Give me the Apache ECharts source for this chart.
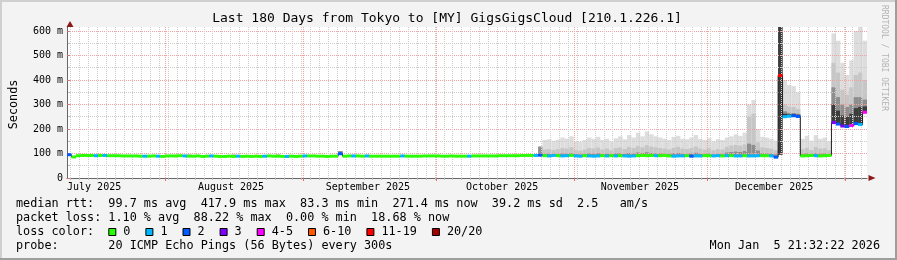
<!DOCTYPE html>
<html><head><meta charset="utf-8">
<script src="https://cdn.jsdelivr.net/npm/echarts@6/dist/echarts.min.js"></script>
<style>html,body{margin:0;padding:0;background:#f3f3f3;}#c{width:897px;height:260px;}</style>
</head><body><div id="c"></div>
<script>
const _ = null;
const titleText = 'Last 180 Days from Tokyo to [MY] GigsGigsCloud [210.1.226.1]';
const yAxisTitle = 'Seconds';
const sideText = 'RRDTOOL / TOBI OETIKER';
// x axis: days since start of the 180 day window
const totalDays = 180;
const monthStartDays = [22.1, 53.1, 83.1, 114.1, 144.1, 175.1];
const monthLabelDays = [6.1, 36.9, 67.7, 97.9, 128.9, 159.1];
const monthLabels = ['July 2025', 'August 2025', 'September 2025', 'October 2025', 'November 2025', 'December 2025'];
const yTickMax = 600;
const yTickStep = 100;
const yDataTop = 616;

// median rtt (ms) per day
const median = [
 95, 86, 91, 92, 92, 92, 91, 92, 92, 91,
 91, 91, 90, 90, 90, 90, 89, 89, 89, 90,
 89, 88, 90, 90, 90, 91, 90, 89, 89, 90,
 88, 89, 90, 89, 88, 88, 89, 88, 89, 88,
 89, 88, 89, 88, 89, 90, 89, 89, 88, 88,
 89, 88, 89, 90, 90, 90, 89, 89, 88, 89,
 89, 99, 89, 90, 90, 90, 89, 90, 89, 89,
 89, 89, 89, 89, 89, 90, 89, 89, 89, 89,
 90, 90, 90, 90, 89, 89, 90, 89, 89, 89,
 89, 90, 90, 90, 90, 90, 90, 91, 91, 91,
 91, 91, 92, 92, 92, 92, 93, 91, 90, 92,
 91, 90, 91, 92, 90, 89, 91, 90, 89, 90,
 91, 90, 91, 90, 91, 90, 89, 90, 91, 92,
 91, 92, 91, 91, 92, 90, 89, 90, 90, 91,
 89, 90, 90, 91, 91, 90, 91, 90, 91, 91,
 90, 90, 91, 90, 90, 91, 91, 91, 90, 85,
 418, 250, 252, 254, 251, 90, 91, 92, 91, 90,
 91, 92, 226, 220, 212, 210, 214, 222, 218, 268
];
// lost pings (of 20) per day
const loss = [
 2,0,0,0,0,0,1,0,1,0,
 0,0,0,0,0,0,0,1,0,0,
 1,0,0,0,0,0,1,0,0,0,
 0,0,1,0,0,0,0,0,1,0,
 0,0,0,0,1,0,0,0,0,1,
 0,0,0,1,0,0,0,0,0,0,
 0,2,0,0,1,0,0,1,0,0,
 0,0,0,0,0,1,0,0,0,0,
 0,0,0,0,0,0,0,0,0,0,
 1,0,0,0,0,0,0,0,0,0,
 0,0,0,0,0,1,2,0,1,1,
 0,1,1,0,1,1,0,1,1,1,
 0,1,0,1,0,1,1,1,0,0,
 0,0,1,0,0,0,1,1,1,0,
 2,1,1,0,0,1,1,0,1,0,
 1,1,0,1,1,1,0,0,1,2,
 15,1,1,2,2,0,0,0,1,0,
 0,0,3,2,3,2,4,2,1,5
];
// smoke: outer (max) ping, middle ping band, inner ping band (ms)
const smokeHi = [
 _,_,_,_,_,_,_,_,_,_,
 _,_,_,_,_,_,_,_,_,_,
 _,_,_,_,94,_,_,95,_,_,
 _,94,_,_,_,_,_,95,_,_,
 _,_,_,94,_,_,_,95,_,_,
 94,_,_,_,_,_,_,_,_,_,
 _,110,_,_,_,_,_,_,_,_,
 _,_,_,_,_,_,_,_,_,_,
 _,_,_,_,_,_,_,_,_,_,
 _,_,_,_,_,_,_,_,_,_,
 _,_,_,_,_,_,128,155,158,152,
 156,165,160,170,150,148,155,165,160,168,
 155,160,150,162,170,158,175,165,185,170,
 190,178,170,165,160,155,168,172,160,158,
 165,175,160,155,162,150,158,155,165,170,
 178,172,185,300,318,200,168,165,160,152,
 616,400,380,375,350,160,172,152,175,160,
 165,150,590,560,470,420,480,600,616,560
];
const smokeMid = [
 _,_,_,_,_,_,_,_,_,_,
 _,_,_,_,_,_,_,_,_,_,
 _,_,_,_,94,_,_,95,_,_,
 _,94,_,_,_,_,_,95,_,_,
 _,_,_,94,_,_,_,95,_,_,
 94,_,_,_,_,_,_,_,_,_,
 _,110,_,_,_,_,_,_,_,_,
 _,_,_,_,_,_,_,_,_,_,
 _,_,_,_,_,_,_,_,_,_,
 _,_,_,_,_,_,_,_,_,_,
 _,_,_,_,_,_,128,116,118,114,
 118,122,120,125,113,112,116,122,120,124,
 116,120,113,122,125,118,127,122,130,125,
 134,128,125,122,120,116,123,127,120,118,
 122,128,120,116,121,113,118,116,127,132,
 135,132,137,250,262,145,125,122,120,113,
 616,300,292,290,282,118,123,114,127,120,
 121,113,470,430,360,340,370,420,430,400
];
const smokeDark = [
 _,_,_,_,_,_,_,_,_,_,
 _,_,_,_,_,_,_,_,_,_,
 _,_,_,_,94,_,_,95,_,_,
 _,94,_,_,_,_,_,95,_,_,
 _,_,_,94,_,_,_,95,_,_,
 94,_,_,_,_,_,_,_,_,_,
 _,110,_,_,_,_,_,_,_,_,
 _,_,_,_,_,_,_,_,_,_,
 _,_,_,_,_,_,_,_,_,_,
 _,_,_,_,_,_,_,_,_,_,
 _,_,_,_,_,_,128,98,99,98,
 98,100,99,101,97,96,98,100,99,101,
 98,99,96,100,101,98,102,100,104,101,
 105,102,100,100,99,98,101,102,99,98,
 100,103,99,98,100,96,98,97,104,106,
 108,106,110,140,135,112,101,100,99,96,
 600,272,266,265,262,98,100,97,101,99,
 100,97,370,330,300,290,300,330,330,320
];
// densest core of the smoke on the most scattered days: [day, ms]
const smokeCorePairs = [[160, 616], [161, 262], [162, 260], [163, 261], [164, 258],
  [172, 300], [173, 275], [174, 255], [175, 250], [176, 262], [177, 285], [178, 290], [179, 292]];
// days where the lowest ping sits well below the median: [day, ms]
const smokeLowPairs = [[160, 95]];

const lossMaxOfClass = [0, 1, 2, 3, 5, 10, 19, 20];
const lossLabels = ['0', '1', '2', '3', '4-5', '6-10', '11-19', '20/20'];
const lossColors = ['#26ff00', '#00b8ff', '#0059ff', '#7e00ff', '#ff00ff', '#ff5500', '#ff0000', '#a00000'];

const legendMedian = 'median rtt:  99.7 ms avg  417.9 ms max  83.3 ms min  271.4 ms now  39.2 ms sd  2.5   am/s';
const legendLoss = 'packet loss: 1.10 % avg  88.22 % max  0.00 % min  18.68 % now';
const legendLossHead = 'loss color:';
const legendProbe = 'probe:       20 ICMP Echo Pings (56 Bytes) every 300s';
const legendDate = 'Mon Jan  5 21:32:22 2026';

// ---------- layout ----------
const FONT = '"DejaVu Sans Mono", monospace';
const PL = 67, PR = 867, PT = 27, PB = 178;
const gridTop1 = PB - (PB - PT) * yTickMax / yDataTop;
const minorGridDays = [];
for (let d = 0.77; d < totalDays; d += 2) minorGridDays.push(Math.round(d * 100) / 100);

function lossColor(n) {
  for (let k = 0; k < lossMaxOfClass.length; k++) if (n <= lossMaxOfClass[k]) return lossColors[k];
  return lossColors[lossColors.length - 1];
}
const lowMap = {}, coreMap = {};
smokeLowPairs.forEach(p => { lowMap[p[0]] = p[1]; });
smokeCorePairs.forEach(p => { coreMap[p[0]] = p[1]; });

const smokeData = [];
const medData = [];
const lineData = [];
for (let i = 0; i < median.length; i++) {
  medData.push([i, median[i], loss[i]]);
  lineData.push([i + 0.5, median[i]]);
  if (smokeHi[i] != null) {
    const base = lowMap[i] != null ? lowMap[i] : median[i];
    smokeData.push([i, base, smokeHi[i], smokeMid[i], smokeDark[i], coreMap[i] != null ? coreMap[i] : NaN]);
  }
}
const shade = ['#dddddd', '#c6c6c6', '#8e8e8e', '#3c3c3c'];

const chart = echarts.init(document.getElementById('c'), null, {renderer: 'canvas'});

const graphics = [];
function txt(x, y, text, opts) {
  graphics.push(Object.assign({
    type: 'text', x: x, y: y, silent: true, z: 50,
    style: Object.assign({text: text, font: '11.8px ' + FONT, fill: '#000', align: 'left', verticalAlign: 'middle'}, opts || {})
  }));
}
txt(447, 19, titleText, {font: '13px ' + FONT, align: 'center'});
txt(16, 204, legendMedian);
txt(16, 218, legendLoss);
txt(16, 232, legendLossHead);
txt(16, 246, legendProbe);
txt(880, 246, legendDate, {align: 'right'});
let cx = 108.3;
lossLabels.forEach((lab, k) => {
  graphics.push({type: 'rect', silent: true, z: 50, shape: {x: cx + 0.5, y: 228.5, width: 7, height: 7},
    style: {fill: lossColors[k], stroke: '#000', lineWidth: 1}});
  txt(cx + 15, 232, lab);
  cx += 30 + 7.1 * lab.length;
});
graphics.push({type: 'text', x: 884, y: 5, rotation: -Math.PI / 2, silent: true, z: 50,
  style: {text: sideText, font: '8px ' + FONT, fill: '#b4b4b4', align: 'left', verticalAlign: 'middle'}});
// frame
graphics.push({type: 'rect', silent: true, z: 60, shape: {x: 0, y: 0, width: 897, height: 2}, style: {fill: '#cfcfcf'}});
graphics.push({type: 'rect', silent: true, z: 60, shape: {x: 0, y: 0, width: 2, height: 260}, style: {fill: '#cfcfcf'}});
graphics.push({type: 'rect', silent: true, z: 60, shape: {x: 0, y: 258, width: 897, height: 2}, style: {fill: '#9e9e9e'}});
graphics.push({type: 'rect', silent: true, z: 60, shape: {x: 895, y: 0, width: 2, height: 260}, style: {fill: '#9e9e9e'}});

const minorGrid = {color: '#cccccc', type: [1, 1], width: 1};
const majorGrid = {color: '#f2a0a0', type: [1, 1], width: 1};

chart.setOption({
  animation: false,
  backgroundColor: '#f3f3f3',
  textStyle: {fontFamily: FONT},
  grid: [
    {left: PL, right: 897 - PR, top: PT, bottom: 260 - PB, show: true, backgroundColor: '#ffffff', borderWidth: 0},
    {left: PL, right: 897 - PR, top: gridTop1, bottom: 260 - PB, show: false}
  ],
  xAxis: [
    {type: 'value', gridIndex: 0, position: 'bottom', min: 0, max: totalDays, z: 3,
      axisLine: {show: true, onZero: false, lineStyle: {color: '#666666', width: 1}},
      axisTick: {show: true, customValues: minorGridDays, length: 2, lineStyle: {color: '#bbbbbb'}},
      axisLabel: {show: false},
      splitLine: {show: true, lineStyle: minorGrid}},
    {type: 'value', gridIndex: 0, position: 'bottom', min: 0, max: totalDays, z: 3,
      axisLine: {show: true, onZero: false, lineStyle: {color: '#8b1a1a', width: 0},
        symbol: ['none', 'triangle'], symbolSize: [6, 7], symbolOffset: [0, 5]},
      axisTick: {show: true, customValues: monthStartDays, length: 3, lineStyle: {color: '#e07070'}},
      axisLabel: {show: true, customValues: monthLabelDays, margin: 4, fontFamily: FONT, fontSize: 10, color: '#000',
        formatter: function (v) {
          let best = 0;
          monthLabelDays.forEach((d, k) => { if (Math.abs(d - v) < Math.abs(monthLabelDays[best] - v)) best = k; });
          return monthLabels[best];
        }},
      splitLine: {show: true, lineStyle: majorGrid}},
    {type: 'value', gridIndex: 1, min: 0, max: totalDays, show: false}
  ],
  yAxis: [
    {type: 'value', gridIndex: 0, position: 'left', min: 0, max: yDataTop, z: 3,
      axisLine: {show: true, onZero: false, lineStyle: {color: '#666666', width: 1}},
      axisTick: {show: false}, axisLabel: {show: false}, splitLine: {show: false}},
    {type: 'value', gridIndex: 1, position: 'left', min: 0, max: yTickMax, interval: yTickStep, z: 3,
      name: yAxisTitle, nameLocation: 'middle', nameGap: 50, nameRotate: 90,
      nameTextStyle: {fontFamily: FONT, fontSize: 11.8, color: '#000'},
      axisLine: {show: true, onZero: false, lineStyle: {color: '#8b1a1a', width: 0},
        symbol: ['none', 'triangle'], symbolSize: [7, 6], symbolOffset: [0, 7]},
      axisTick: {show: true, length: 3, lineStyle: {color: '#e07070'}},
      minorTick: {show: true, splitNumber: 2, length: 2, lineStyle: {color: '#bbbbbb'}},
      axisLabel: {margin: 7, fontFamily: FONT, fontSize: 10, color: '#000',
        formatter: v => (v === 0 ? '0' : v + ' m')},
      splitLine: {show: true, lineStyle: majorGrid},
      minorSplitLine: {show: true, lineStyle: minorGrid}}
  ],
  series: [
    {type: 'custom', name: 'smoke', xAxisIndex: 0, yAxisIndex: 0, z: 1, clip: true, silent: true,
      encode: {x: 0, y: 1}, data: smokeData,
      renderItem: function (params, api) {
        const i = api.value(0);
        const x0 = api.coord([i, 0])[0], x1 = api.coord([i + 1, 0])[0];
        const yb = api.coord([i, api.value(1)])[1];
        const kids = [];
        [2, 3, 4, 5].forEach((dim, k) => {
          const v = api.value(dim);
          if (v == null || isNaN(v)) return;
          const yt = api.coord([i, v])[1];
          kids.push({type: 'rect', shape: {x: x0, y: yt, width: x1 - x0, height: Math.max(0, yb - yt)},
            style: {fill: shade[k]}});
        });
        return {type: 'group', children: kids};
      }},
    {type: 'line', name: 'median', xAxisIndex: 0, yAxisIndex: 0, z: 3, silent: true, data: lineData,
      step: 'middle', symbol: 'none', lineStyle: {color: '#202020', width: 1}},
    {type: 'custom', name: 'loss', xAxisIndex: 0, yAxisIndex: 0, z: 4, clip: true, silent: true,
      encode: {x: 0, y: 1}, data: medData,
      renderItem: function (params, api) {
        const i = api.value(0);
        const x0 = api.coord([i, 0])[0], x1 = api.coord([i + 1, 0])[0];
        const y = api.coord([i, api.value(1)])[1];
        return {type: 'rect', shape: {x: x0, y: y - 1.5, width: x1 - x0, height: 3},
          style: {fill: lossColor(api.value(2))}};
      }}
  ],
  graphic: graphics
});
</script></body></html>
